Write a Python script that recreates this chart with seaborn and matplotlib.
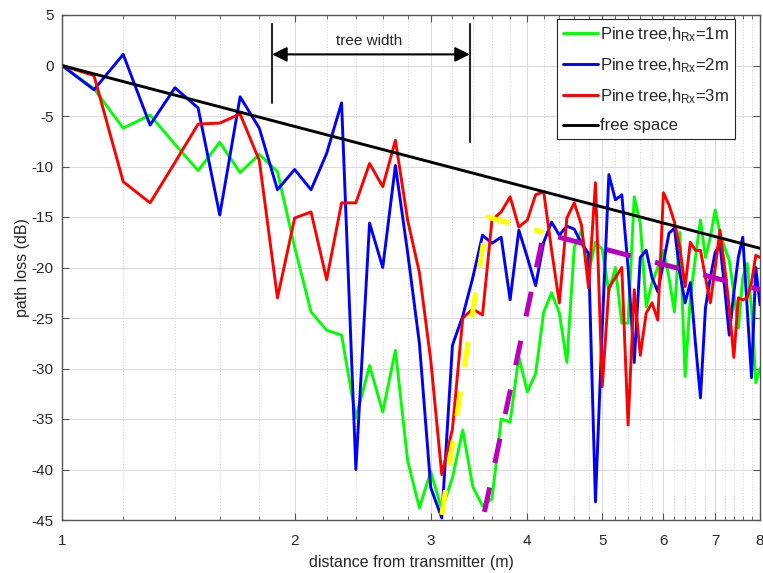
import numpy as np
import pandas as pd
import matplotlib
matplotlib.use("Agg")
import matplotlib.pyplot as plt
import seaborn as sns

# distance samples (m), 0.1 m steps from 1 to 8
dist = np.round(np.arange(1.0, 8.01, 0.1), 1)

green = [
    0.0, -2.3, -6.2, -4.9, -7.8, -10.4, -7.6, -10.6, -8.8, -10.5,
    -18.0, -24.4, -26.2, -26.7, -34.9, -29.7, -34.3, -28.2, -39.1, -43.8,
    -40.2, -44.0, -40.8, -36.1, -41.7, -43.6, -42.9, -35.0, -35.3, -28.8,
    -32.3, -30.5, -24.4, -22.5, -24.5, -29.4, -18.0, -16.3, -20.5, -17.5,
    -18.2, -22.4, -20.0, -25.5, -25.5, -13.0, -15.6, -23.9, -21.5, -20.0,
    -18.3, -21.0, -24.4, -16.5, -30.8, -23.0, -19.0, -15.3, -19.0, -17.0,
    -14.3, -16.6, -18.0, -19.3, -22.5, -26.0, -21.0, -19.6, -24.0, -31.4,
    -30.0]

blue = [
    0.0, -2.4, 1.1, -5.9, -2.2, -4.2, -14.8, -3.1, -6.2, -12.3,
    -10.3, -12.3, -8.7, -3.7, -40.0, -15.6, -20.0, -9.9, -18.5, -27.5,
    -41.8, -44.8, -27.7, -24.8, -21.0, -16.8, -17.6, -17.0, -23.2, -16.3,
    -19.0, -21.8, -17.5, -15.5, -16.8, -15.9, -16.2, -17.6, -18.6, -43.2,
    -26.0, -10.8, -13.3, -12.8, -20.0, -29.4, -19.0, -18.3, -21.0, -22.4,
    -19.5, -16.6, -16.1, -20.5, -23.5, -21.5, -27.5, -32.9, -24.0, -21.0,
    -18.5, -17.7, -22.0, -26.7, -22.5, -19.0, -17.0, -24.0, -30.9, -20.0,
    -23.7]

red = [
    0.0, -1.0, -11.5, -13.6, -9.6, -5.8, -5.7, -4.8, -9.4, -23.0,
    -15.1, -14.5, -21.2, -13.6, -13.6, -9.7, -12.0, -7.4, -15.3, -20.5,
    -29.2, -40.5, -36.0, -25.0, -24.1, -24.7, -15.3, -14.5, -13.0, -16.0,
    -15.3, -12.8, -12.5, -18.3, -23.5, -15.1, -13.6, -15.8, -22.0, -11.6,
    -31.8, -22.0, -21.0, -20.0, -35.6, -22.2, -28.7, -24.5, -23.5, -25.2,
    -12.6, -13.8, -15.5, -18.0, -21.9, -17.5, -18.3, -18.3, -21.0, -23.5,
    -20.0, -16.3, -20.0, -24.0, -28.9, -23.0, -23.2, -23.0, -21.5, -18.8,
    -19.0]

free_d = [1.0, 8.0]
free_v = [0.0, -18.1]

yellow_d = [3.1, 3.55, 4.2]
yellow_v = [-44.5, -15.0, -16.5]

magenta_d = [3.52, 4.2, 8.0]
magenta_v = [-44.2, -16.6, -22.2]

tree_start, tree_end = 1.87, 3.37

labels = ["Pine tree,h$_{Rx}$=1m", "Pine tree,h$_{Rx}$=2m",
          "Pine tree,h$_{Rx}$=3m", "free space"]

sns.set_theme(style="whitegrid")
plt.rcParams["font.family"] = ["Liberation Sans", "DejaVu Sans"]
plt.rcParams["mathtext.default"] = "regular"
plt.rcParams["axes.unicode_minus"] = False

txt = "#262626"
fig = plt.figure(figsize=(7.63, 5.73), dpi=100)
ax = fig.add_axes([62 / 763, 1 - 520 / 573, 698 / 763, 505 / 573])
ax.set_xscale("log")

sns.lineplot(x=dist, y=green, color="#00ff00", lw=2.1, label=labels[0], ax=ax, estimator=None)
sns.lineplot(x=dist, y=blue, color="#0000ff", lw=2.1, label=labels[1], ax=ax, estimator=None)
sns.lineplot(x=dist, y=red, color="#ff0000", lw=2.1, label=labels[2], ax=ax, estimator=None)
sns.lineplot(x=free_d, y=free_v, color="black", lw=2.1, label=labels[3], ax=ax, estimator=None)
sns.lineplot(x=yellow_d, y=yellow_v, color="#ffff00", lw=3.6, linestyle=(0, (5, 5)),
             ax=ax, estimator=None, legend=False)
sns.lineplot(x=magenta_d, y=magenta_v, color="#bb00bb", lw=3.6, linestyle=(0, (5, 5)),
             ax=ax, estimator=None, legend=False)

# tree width marker
ax.plot([tree_start, tree_start], [4.1, -3.7], color="#262626", lw=1.5)
ax.plot([tree_end, tree_end], [4.1, -7.6], color="#262626", lw=1.5)
ax.annotate("", xy=(tree_start, 1.1), xytext=(tree_end, 1.1),
            arrowprops=dict(arrowstyle="<|-|>", color="black", lw=1.5,
                            mutation_scale=22, shrinkA=0, shrinkB=0))
ax.text(2.5, 2.4, "tree width", ha="center", va="center", fontsize=11, color=txt)

ax.set_xlim(1, 8)
ax.set_ylim(-45, 5)
ax.set_xticks([1, 2, 3, 4, 5, 6, 7, 8])
ax.set_xticklabels(["1", "2", "3", "4", "5", "6", "7", "8"])
minor = [round(v, 1) for v in np.arange(1.2, 8.0, 0.2) if abs(v - round(v)) > 0.05]
ax.set_xticks(minor, minor=True)
ax.xaxis.set_minor_formatter(matplotlib.ticker.NullFormatter())
ax.set_yticks(list(range(-45, 6, 5)))

ax.grid(True, which="major", color="#dcdcdc", lw=0.8, ls="-")
ax.grid(True, which="minor", axis="x", color="#d0d0d0", lw=0.7, ls=(0, (1, 2)))
ax.set_axisbelow(True)
for s in ax.spines.values():
    s.set_color("#555555")
    s.set_linewidth(1.0)
ax.tick_params(which="both", direction="in", top=True, right=True, bottom=True, left=True,
               colors="#555555", labelcolor=txt, labelsize=11)
ax.tick_params(which="major", length=5, width=0.8)
ax.tick_params(which="minor", length=3, width=0.6)
ax.tick_params(axis="x", pad=10)
ax.tick_params(axis="y", pad=6)

ax.set_xlabel("distance from transmitter (m)", fontsize=11.5, color=txt, labelpad=5)
ax.set_ylabel("path loss (dB)", fontsize=11.5, color=txt, labelpad=1)

leg = ax.legend(loc="upper right", bbox_to_anchor=(0.964, 0.992), borderaxespad=0,
                fontsize=12, handlelength=2.1, handletextpad=0.15, borderpad=0.35,
                labelspacing=0.75, fancybox=False, framealpha=1)
leg.get_frame().set_edgecolor("#262626")
leg.get_frame().set_linewidth(0.8)
for t in leg.get_texts():
    t.set_color(txt)

fig.savefig("out.png", dpi=100)
